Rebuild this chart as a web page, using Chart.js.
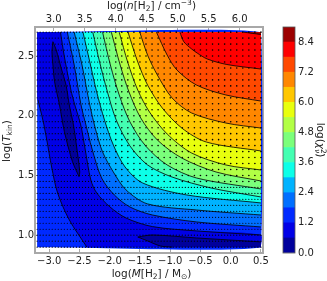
<!DOCTYPE html>
<html>
<head>
<meta charset="utf-8">
<style>
	html, body { margin: 0; padding: 0; background: #fff; }
	#wrap { position: relative; width: 327px; height: 281px; overflow: hidden; }
	canvas { position: absolute; top: 0; }
	#main { left: 0; }
	#bar { left: 275px; }
</style>
<script src="https://cdn.jsdelivr.net/npm/chart.js@4"></script>
</head>
<body>
<div id="wrap">
	<canvas id="main" width="275" height="281"></canvas>
	<canvas id="bar" width="52" height="281"></canvas>
</div>
<script>
const xTicks = [-3, -2.5, -2, -1.5, -1, -0.5, 0, 0.5];
const topTicks = [3, 3.5, 4, 4.5, 5, 5.5, 6];
const yTicks = [1, 1.5, 2, 2.5];
const barTicks = [0, 1.2, 2.4, 3.6, 4.8, 6, 7.2, 8.4];

// one colour per 0.6 wide band, from 0.0 up to 9.0
const bandColors = ["#00009c", "#0000e6", "#002aff", "#006fff", "#00b3ff", "#0dffe8", "#44ffb2", "#7bff7b",
	"#b2ff45", "#e8ff0e", "#ffc700", "#ff8700", "#ff4900", "#fe0000", "#9c0000"];
const bandSize = [0.6, 0.6, 0.6, 0.6, 0.6, 0.6, 0.6, 0.6, 0.6, 0.6, 0.6, 0.6, 0.6, 0.6, 0.6];

// the model grid, black dots. denser in the low mass and low temperature part
const sampleX = [-3.2, -3.15, -3.1, -3.05, -3, -2.95, -2.9, -2.85, -2.8, -2.75, -2.7, -2.65, -2.6, -2.55, -2.5,
	-2.45, -2.4, -2.35, -2.3, -2.25, -2.2, -2.15, -2.1, -2.05, -2, -1.95, -1.9, -1.85, -1.8, -1.75, -1.7, -1.65,
	-1.6, -1.55, -1.5, -1.45, -1.4, -1.35, -1.3, -1.25, -1.2, -1.15, -1.1, -1.05, -1, -0.95, -0.9, -0.85, -0.8,
	-0.75, -0.7, -0.65, -0.6, -0.55, -0.5, -0.45, -0.4, -0.35, -0.3, -0.25, -0.2, -0.15, -0.1, -0.05, 0, 0.05,
	0.1, 0.15, 0.2, 0.25, 0.3, 0.35, 0.4, 0.45, 0.5];
const coarseX = [-1.9, -1.8, -1.7, -1.6, -1.5, -1.4, -1.3, -1.2, -1.1, -1, -0.9, -0.8, -0.7, -0.6, -0.5, -0.4, -0.3,
	-0.2, -0.1, 0, 0.1, 0.2, 0.3, 0.4, 0.5];
const sampleY = [0.9, 0.95, 1, 1.05, 1.1, 1.15, 1.2, 1.25, 1.3, 1.35, 1.4, 1.45, 1.5, 1.55, 1.6, 1.65, 1.7, 1.75,
	1.8, 1.85, 1.9, 1.95, 2, 2.05, 2.1, 2.15, 2.2, 2.25, 2.3, 2.35, 2.4, 2.45, 2.5, 2.55, 2.6, 2.65, 2.7];

// contour lines, [log M, log Tkin]
const contour12Left = [[-3.186, 2.132], [-3.105, 1.964], [-3.04, 1.797], [-2.96, 1.571], [-2.862, 1.354], [-2.668, 1.128], [-2.377, 0.9]];
const contour12 = [[-2.814, 2.7], [-2.749, 2.494], [-2.641, 2.215], [-2.576, 2.09], [-2.479, 1.923], [-2.409, 1.73], [-2.312, 1.462], [-2.215, 1.354], [-1.994, 1.236], [-1.73, 1.144], [-1.293, 1.072], [-0.565, 1.036], [0.5, 1.002]];
const contour18 = [[-2.701, 2.7], [-2.587, 2.425], [-2.474, 2.09], [-2.393, 1.923], [-2.296, 1.73], [-2.134, 1.479], [-1.924, 1.337], [-1.665, 1.236], [-1.293, 1.169], [-0.565, 1.111], [0.5, 1.069]];
const contour24 = [[-2.587, 2.7], [-2.458, 2.425], [-2.329, 2.09], [-2.231, 1.881], [-2.118, 1.697], [-1.94, 1.529], [-1.73, 1.379], [-1.374, 1.262], [-0.565, 1.211], [0.5, 1.169]];
const contour30 = [[-2.442, 2.7], [-2.329, 2.45], [-2.215, 2.199], [-2.086, 1.964], [-1.94, 1.755], [-1.746, 1.571], [-1.455, 1.437], [-0.727, 1.337], [0.5, 1.27]];
const contour36 = [[-2.28, 2.7], [-2.167, 2.45], [-2.037, 2.199], [-1.892, 1.964], [-1.665, 1.747], [-1.374, 1.588], [-0.969, 1.487], [-0.322, 1.395], [0.5, 1.32]];
const contour42 = [[-2.118, 2.7], [-1.989, 2.425], [-1.843, 2.174], [-1.665, 1.948], [-1.406, 1.747], [-1.05, 1.588], [-0.565, 1.479], [0.5, 1.387]];
const contour48 = [[-1.973, 2.7], [-1.827, 2.425], [-1.681, 2.199], [-1.487, 1.981], [-1.212, 1.797], [-0.808, 1.646], [-0.241, 1.529], [0.5, 1.454]];
const contour54 = [[-1.843, 2.7], [-1.698, 2.441], [-1.536, 2.215], [-1.342, 2.031], [-1.05, 1.847], [-0.646, 1.688], [-0.08, 1.588], [0.5, 1.546]];
const contour60 = [[-1.698, 2.7], [-1.536, 2.45], [-1.374, 2.257], [-1.131, 2.065], [-0.808, 1.897], [-0.403, 1.78], [0.5, 1.705]];
const contour66 = [[-1.503, 2.7], [-1.374, 2.508], [-1.212, 2.341], [-0.969, 2.149], [-0.646, 2.023], [-0.08, 1.939], [0.5, 1.897]];
const contour72 = [[-1.228, 2.7], [-1.05, 2.508], [-0.889, 2.383], [-0.565, 2.257], [-0.08, 2.174], [0.5, 2.123]];
const contour78 = [[-0.84, 2.7], [-0.775, 2.62], [-0.646, 2.559], [-0.554, 2.525], [-0.387, 2.475], [-0.063, 2.429], [0.5, 2.391]];
const contour84 = [[0.21, 2.7], [0.5, 2.68]];
// the tips are listed twice so they stay pointed
const blobLeft = [[-2.939, 2.62], [-2.883, 2.55], [-2.803, 2.4], [-2.722, 2.257], [-2.668, 2.09], [-2.599, 1.923], [-2.544, 1.73], [-2.495, 1.529], [-2.507, 1.49], [-2.507, 1.49], [-2.615, 1.615], [-2.749, 1.867], [-2.83, 2.09], [-2.911, 2.285], [-2.939, 2.425], [-2.955, 2.536], [-2.939, 2.62]];
const blobBottom = [[-0.969, 0.9], [-1.164, 0.91], [-1.374, 0.952], [-1.536, 0.985], [-1.536, 0.985], [-1.293, 1.002], [-0.565, 0.977], [0.5, 0.944]];

const upperContours = [contour18, contour24, contour30, contour36, contour42, contour48, contour54, contour60, contour66, contour72, contour78, contour84];
const gridLeft = -3.2, gridRight = 0.5, gridBottom = 0.9, gridTop = 2.7;

// axis labels, pieces: text, italic, size, shift up, keep pen where it was
const topLabel = [["log("], ["n", 1], ["[H"], ["2", 0, 7.5, -2], ["] / cm"], ["\u22123", 0, 7.5, 4], [")"]];
const bottomLabel = [["log("], ["M", 1], ["[H"], ["2", 0, 7.5, -2], ["] / M"], ["\u2299", 0, 7.5, -2], [")"]];
const leftLabel = [["log("], ["T", 1], ["kin", 0, 7.5, -2], [")"]];
const barLabel = [["log("], ["\u03C7", 1], ["2", 0, 7.5, 4, 1], ["\u03BD", 1, 7.5, -2], [")"]];

const font = "'DejaVu Sans'";
const labelSize = 10.5;
const frameColor = "#a8a8a8";
const textColor = "#222";

function toPoints(list) {
	return list.map(p => ({ x: p[0], y: p[1] }));
}

function area(list, color, order) {
	return { data: toPoints(list), showLine: true, fill: "shape", tension: 0.3, backgroundColor: color, borderWidth: 0, pointRadius: 0, order: order };
}

function outline(list) {
	return { data: toPoints(list), showLine: true, fill: false, tension: 0.3, borderColor: "#000", borderWidth: 0.8, pointRadius: 0, order: 2 };
}

// last point twice, so the fill follows the same curve as the outline
function closed(list) {
	const last = list[list.length - 1];
	return list.concat([last, [gridRight, gridTop]]);
}

function tickText(v) {
	return v.toFixed(1).replace("-", "\u2212");
}

function pieceFont(piece) {
	return (piece[1] ? "italic " : "") + (piece[2] || labelSize) + "px " + font;
}

function drawLabel(ctx, pieces, x, y, angle) {
	ctx.save();
	ctx.translate(x, y);
	ctx.rotate(angle);
	ctx.fillStyle = textColor;
	ctx.textBaseline = "alphabetic";
	ctx.textAlign = "left";
	let width = 0;
	pieces.forEach(p => {
		ctx.font = pieceFont(p);
		if (!p[4]) width += ctx.measureText(p[0]).width;
	});
	let pen = -width / 2;
	pieces.forEach(p => {
		ctx.font = pieceFont(p);
		ctx.fillText(p[0], pen, -(p[3] || 0));
		if (!p[4]) pen += ctx.measureText(p[0]).width;
	});
	ctx.restore();
}

function axis(position, min, max, ticks, size, padding) {
	return {
		type: "linear",
		position: position,
		min: min,
		max: max,
		afterBuildTicks: s => { s.ticks = ticks.map(v => ({ value: v })); },
		afterFit: s => {
			if (position == "top" || position == "bottom") s.height = size; else s.width = size;
		},
		grid: { drawOnChartArea: false, drawTicks: true, tickLength: -4, tickColor: frameColor, tickWidth: 1 },
		border: { display: true, color: frameColor, width: 2 },
		ticks: {
			display: position != "right",
			autoSkip: false,
			maxRotation: 0,
			minRotation: 0,
			padding: padding,
			color: textColor,
			font: { family: font, size: 10 },
			callback: v => tickText(v)
		}
	};
}

let datasets = [];
let fineDots = [];
let coarseDots = [];
for (let i = 0; i < sampleY.length; i++) {
	for (let j = 0; j < sampleX.length; j++) {
		const x = sampleX[j];
		if (sampleY[i] < 1.45 || x <= -2) fineDots.push({ x: x, y: sampleY[i] });
		else if (coarseX.includes(x)) coarseDots.push({ x: x, y: sampleY[i] });
	}
}
datasets.push({ data: fineDots, showLine: false, backgroundColor: "#000", borderWidth: 0, pointRadius: 0.6, order: 1 });
datasets.push({ data: coarseDots, showLine: false, backgroundColor: "#000", borderWidth: 0, pointRadius: 0.8, order: 1 });

datasets.push(area([[gridLeft, gridBottom], [gridRight, gridBottom], [gridRight, gridTop], [gridLeft, gridTop]], bandColors[2], 100));
const lowBandEnd = contour12Left[contour12Left.length - 1];
const lowBand = contour12Left.concat([lowBandEnd, [gridRight, gridBottom], [gridRight, gridBottom]], contour12.slice().reverse(),
	[[contour12[0][0], contour12[0][1]], [gridLeft, gridTop], [gridLeft, gridTop], [gridLeft, contour12Left[0][1]]]);
datasets.push(area(lowBand, bandColors[1], 99));
datasets.push(area(blobLeft, bandColors[0], 98));
datasets.push(area(closed(blobBottom).slice(0, -1).concat([[gridRight, gridBottom]]), bandColors[0], 98));
for (let i = 0; i < upperContours.length; i++) {
	datasets.push(area(closed(upperContours[i]), bandColors[i + 3], 50 - i));
	datasets.push(outline(upperContours[i]));
}
datasets.push(outline(contour12Left));
datasets.push(outline(contour12));
datasets.push(outline(blobLeft));
datasets.push(outline(blobBottom));

const mainLabels = {
	id: "mainLabels",
	afterDraw(chart) {
		const ctx = chart.ctx;
		drawLabel(ctx, topLabel, 151.5, 9, 0);
		drawLabel(ctx, bottomLabel, 151.5, 276.5, 0);
		drawLabel(ctx, leftLabel, 9.5, 141, -Math.PI / 2);
	}
};

new Chart(document.getElementById("main").getContext("2d"), {
	type: "scatter",
	data: { datasets: datasets },
	options: {
		responsive: false,
		animation: false,
		layout: { padding: 0 },
		plugins: { legend: { display: false }, tooltip: { enabled: false } },
		scales: {
			x: axis("bottom", -3.235, 0.536, xTicks, 28, 6),
			y: axis("left", 0.851, 2.743, yTicks, 35, 5),
			xTop: axis("top", 2.7, 6.379, topTicks, 27, 6),
			yRight: axis("right", 0.851, 2.743, yTicks, 7, 0)
		}
	},
	plugins: [mainLabels]
});

const barFrame = {
	id: "barFrame",
	afterDraw(chart) {
		const a = chart.chartArea;
		const ctx = chart.ctx;
		ctx.save();
		ctx.strokeStyle = "#555";
		ctx.lineWidth = 0.8;
		ctx.strokeRect(a.left, a.top, a.right - a.left, a.bottom - a.top);
		ctx.restore();
		drawLabel(ctx, barLabel, 41.5, 140, Math.PI / 2);
	}
};

new Chart(document.getElementById("bar").getContext("2d"), {
	type: "bar",
	data: {
		labels: [""],
		datasets: bandColors.map((c, i) => ({ data: [bandSize[i]], backgroundColor: c, barPercentage: 1, categoryPercentage: 1, borderWidth: 0 }))
	},
	options: {
		responsive: false,
		animation: false,
		layout: { padding: { left: 8, top: 27, bottom: 28 } },
		plugins: { legend: { display: false }, tooltip: { enabled: false } },
		scales: {
			x: { display: false, stacked: true },
			y: {
				stacked: true,
				position: "right",
				min: 0,
				max: 9,
				afterBuildTicks: s => { s.ticks = barTicks.map(v => ({ value: v })); },
				afterFit: s => { s.width = 32; },
				grid: { drawOnChartArea: false, drawTicks: false },
				border: { display: false },
				ticks: { autoSkip: false, padding: 3, color: textColor, font: { family: font, size: 10 }, callback: v => tickText(v) }
			}
		}
	},
	plugins: [barFrame]
});
</script>
</body>
</html>
